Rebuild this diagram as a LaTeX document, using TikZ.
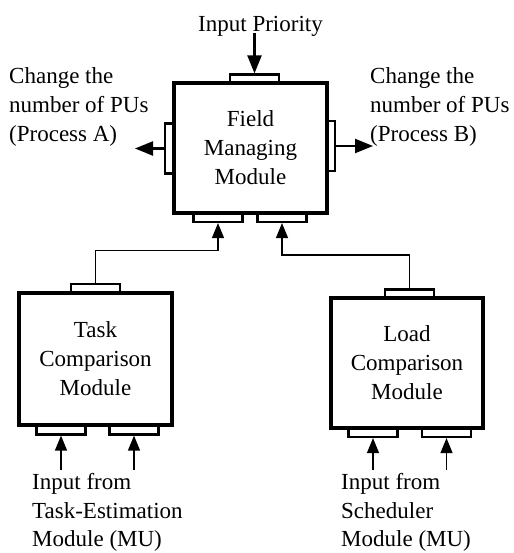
\documentclass[tikz,border=0pt]{standalone}
\usepackage{fontspec}
\setmainfont{Liberation Serif}
\usetikzlibrary{arrows.meta}
\begin{document}
\begin{tikzpicture}[x=1pt,y=-1pt,
  txt/.style={font=\fontsize{23}{29}\selectfont, inner sep=0pt, align=left},
  btxt/.style={txt, font=\fontsize{23}{28.5}\selectfont},
  modbox/.style={draw, line width=3.2pt, inner sep=0pt, minimum width=153pt, minimum height=130pt,
    font=\fontsize{23}{29}\selectfont, align=center},
  port/.style={draw, line width=2.2pt, fill=white, inner sep=0pt},
  hport/.style={port, minimum width=49pt, minimum height=9pt},
  vport/.style={port, minimum width=8.5pt, minimum height=50pt},
  bigarr/.style={-{Triangle[length=18pt,width=14pt]}, line width=2.2pt},
  smallarr/.style={-{Triangle[length=15pt,width=12pt]}, line width=1.3pt},
  wire/.style={line width=1.1pt}]
\useasboundingbox (0,0) rectangle (513,553);

% ports
\node[hport] (fmmT) at (254.5,79) {};
\node[vport] (fmmL) at (169.5,148.5) {};
\node[vport] (fmmR) at (330.5,146) {};
\node[hport] (fmmB1) at (218,217.5) {};
\node[hport] (fmmB2) at (282,217.5) {};
\node[hport] (tcmT) at (95.5,288.5) {};
\node[hport] (tcmB1) at (61,430) {};
\node[hport] (tcmB2) at (134,430) {};
\node[hport] (lcmT) at (409.5,294) {};
\node[hport] (lcmB1) at (373,432.5) {};
\node[hport] (lcmB2) at (446.5,432.5) {};

% modules
\node[modbox] (fmm) at (250.5,148) {Field\\Managing\\Module};
\node[modbox, minimum height=132pt] (tcm) at (95.5,359) {Task\\Comparison\\Module};
\node[modbox, minimum width=152pt] (lcm) at (407,363) {Load\\Comparison\\Module};

% texts
\node[txt, anchor=base] (ip) at (260.5,31.7) {Input Priority};
\node[txt, anchor=north west] (pa) at (9,67.3) {Change the\\number of PUs\\(Process A)};
\node[txt, anchor=north west] (pb) at (370,67) {Change the\\number of PUs\\(Process B)};
\node[btxt, anchor=north west] (te) at (32,473.5) {Input from\\Task-Estimation\\Module (MU)};
\node[btxt, anchor=north west] (sc) at (341,473.5) {Input from\\Scheduler\\Module (MU)};

% coordinates
\coordinate (ipsrc) at (254.5,33);
\coordinate (leftend) at (135,148.5);
\coordinate (rightend) at (373,146);
\coordinate (te1) at (61,470);
\coordinate (te2) at (134,470);
\coordinate (sc1) at (373,470);
\coordinate (sc2) at (446.5,470);

% connectors
\draw[bigarr] (ipsrc) -- (fmmT.north);
\draw[bigarr] (fmmL.west) -- (leftend);
\draw[bigarr] (fmmR.east) -- (rightend);
\draw[wire, smallarr] (tcmT.north) -- ++(0,-32.5) -| (fmmB1.south);
\draw[wire, smallarr] (lcmT.north) -- ++(0,-33.5) -| (fmmB2.south);
\draw[smallarr] (te1) -- (tcmB1.south);
\draw[smallarr] (te2) -- (tcmB2.south);
\draw[smallarr] (sc1) -- (lcmB1.south);
\draw[smallarr] (sc2) -- (lcmB2.south);
\end{tikzpicture}
\end{document}
